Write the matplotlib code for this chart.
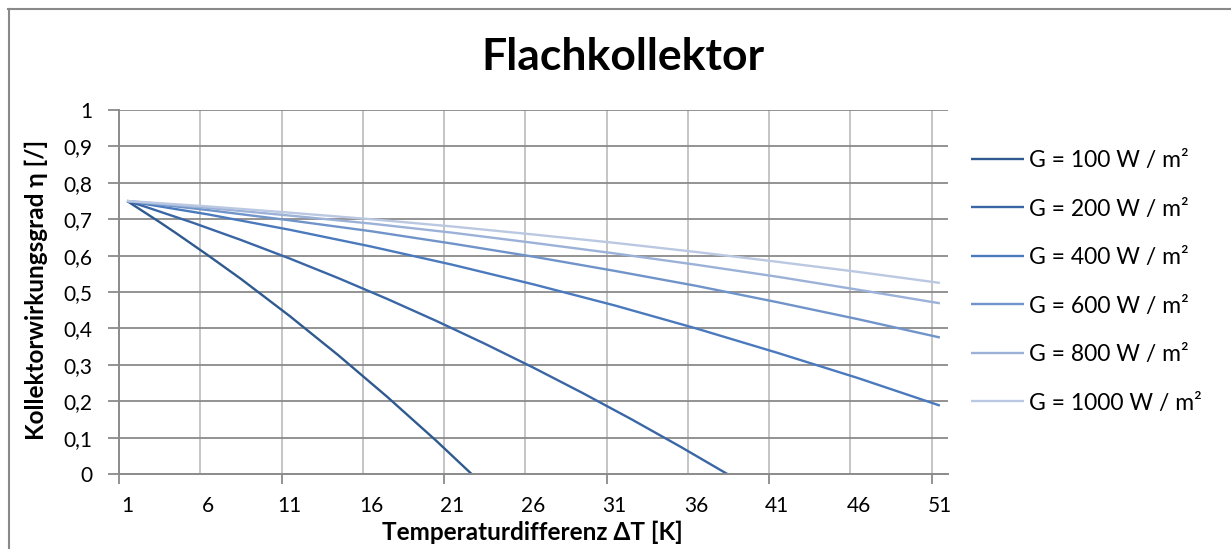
import matplotlib
matplotlib.use("Agg")
import matplotlib.pyplot as plt
from matplotlib.lines import Line2D
import numpy as np

plt.rcParams["font.family"] = ["Lato", "DejaVu Sans"]

# Temperature difference categories. The steep low-irradiance curves are
# sampled at every category, the flatter ones at every 5th.
dt_fine_100 = list(range(1, 25))
dt_fine_200 = list(range(1, 40))
dt_coarse = [1, 6, 11, 16, 21, 26, 31, 36, 41, 46, 51]
tick_labels = [str(v) for v in range(1, 52, 5)]

g_labels = ["G = 100 W / m²", "G = 200 W / m²", "G = 400 W / m²",
            "G = 600 W / m²", "G = 800 W / m²", "G = 1000 W / m²"]

eta_g100 = [0.750, 0.721, 0.692, 0.662, 0.631, 0.600, 0.568, 0.536, 0.502, 0.468,
            0.434, 0.398, 0.362, 0.326, 0.288, 0.250, 0.212, 0.172, 0.132, 0.092,
            0.050, 0.008, -0.034, -0.078]
eta_g200 = [0.750, 0.736, 0.721, 0.706, 0.691, 0.675, 0.659, 0.643, 0.626, 0.609,
            0.592, 0.574, 0.556, 0.538, 0.519, 0.500, 0.481, 0.461, 0.441, 0.421,
            0.400, 0.379, 0.358, 0.336, 0.314, 0.292, 0.269, 0.246, 0.223, 0.199,
            0.175, 0.151, 0.126, 0.101, 0.076, 0.050, 0.024, -0.002, -0.029]
eta_g400 = [0.75, 0.713, 0.671, 0.625, 0.575, 0.521, 0.463, 0.400, 0.333, 0.263, 0.188]
eta_g600 = [0.75, 0.725, 0.697, 0.667, 0.633, 0.597, 0.558, 0.517, 0.472, 0.425, 0.375]
eta_g800 = [0.75, 0.731, 0.710, 0.688, 0.663, 0.635, 0.606, 0.575, 0.542, 0.506, 0.469]
eta_g1000 = [0.75, 0.735, 0.718, 0.700, 0.680, 0.658, 0.635, 0.610, 0.583, 0.555, 0.525]

series = [(dt_fine_100, eta_g100), (dt_fine_200, eta_g200), (dt_coarse, eta_g400),
          (dt_coarse, eta_g600), (dt_coarse, eta_g800), (dt_coarse, eta_g1000)]
colors = ["#2F5A8F", "#3A66A5", "#4A7ABD", "#7094C9", "#9BB1D8", "#BBC8E2"]

W, H = 1231, 549
fig = plt.figure(figsize=(W / 100, H / 100), dpi=100)

# outer chart frame
fig.add_artist(Line2D([8 / W, 1], [1 - 8.5 / H, 1 - 8.5 / H], color="#898989", lw=1.5))
fig.add_artist(Line2D([9 / W, 9 / W], [1 - 8.5 / H, 0], color="#898989", lw=1.5))

left, right, top, bottom = 119, 948, 110, 474
ax = fig.add_axes([left / W, 1 - bottom / H, (right - left) / W, (bottom - top) / H])

for (xs, vals), lab, col in zip(series, g_labels, colors):
    # category "1" sits at index 0
    ax.plot(np.array(xs) - 1, vals, color=col, lw=1.7, label=lab, solid_capstyle="butt")

ax.set_xlim(-0.5, 50.5)
ax.set_ylim(0, 1)

# horizontal grid (dark) and category-boundary grid (light)
yt = np.round(np.arange(0, 1.01, 0.1), 1)
for y in yt[1:]:
    ax.axhline(y, color="#8A8A8A", lw=1.3, zorder=0.5)
for b in np.arange(4.5, 50, 5):
    ax.axvline(b, color="#C0C0C0", lw=1.3, zorder=0.4)

ax.set_yticks(yt)
ax.set_yticklabels([f"{v:.1f}".replace(".", ",") if v not in (0, 1) else str(int(v)) for v in yt])
ax.tick_params(axis="y", length=8, width=1.3, color="#8A8A8A", pad=11, labelsize=15)

ax.set_xticks(np.array(dt_coarse) - 1)
ax.set_xticklabels(tick_labels)
ax.tick_params(axis="x", which="major", length=0, pad=16, labelsize=15)
ax.set_xticks(np.arange(-0.5, 51, 10), minor=True)
ax.tick_params(axis="x", which="minor", length=7, width=1.3, color="#8A8A8A", direction="out")

for s in ["top", "right"]:
    ax.spines[s].set_visible(False)
for s in ["left", "bottom"]:
    ax.spines[s].set_color("#8A8A8A")
    ax.spines[s].set_linewidth(1.4)

fig.text(623 / W, 1 - 57 / H, "Flachkollektor", ha="center", va="center",
         fontsize=32, fontweight="bold")
fig.text(36 / W, 1 - 290 / H, "Kollektorwirkungsgrad η [/]", rotation=90,
         ha="center", va="center", fontsize=17.5, fontweight="bold")
fig.text(532 / W, 1 - 532 / H, "Temperaturdifferenz ΔT [K]", ha="center", va="center",
         fontsize=17.5, fontweight="bold")

ax.legend(loc="upper left", bbox_to_anchor=(971 / W, 1 - 150 / H), bbox_transform=fig.transFigure,
          frameon=False, fontsize=16.5, handlelength=2.3, handletextpad=0.25, labelspacing=1.2,
          borderpad=0, borderaxespad=0)

fig.savefig("out.png", dpi=100)
